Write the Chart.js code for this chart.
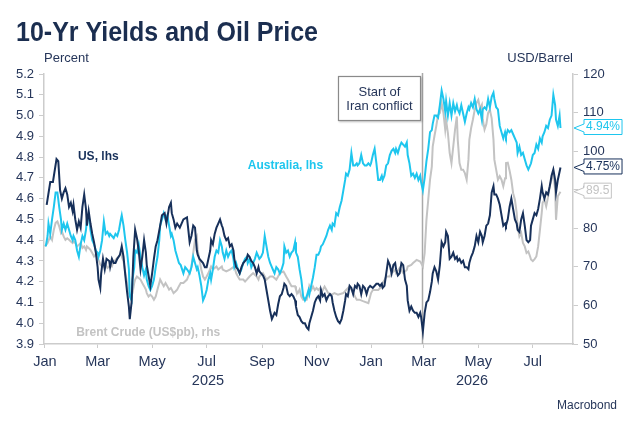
<!DOCTYPE html>
<html>
<head>
<meta charset="utf-8">
<title>10-Yr Yields and Oil Price</title>
<script src="https://cdn.jsdelivr.net/npm/chart.js@4.4.1/dist/chart.umd.min.js"></script>
<style>
  html, body { margin: 0; padding: 0; background: #ffffff; }
  #wrap { width: 638px; height: 432px; }
</style>
</head>
<body>
<div id="wrap"><canvas id="chart" width="638" height="432"></canvas></div>
<script>
// Colours and fonts
const FONT = '"Liberation Sans", Arial, sans-serif';
const NAVY = '#17305a';
const CYAN = '#1ec6ee';
const GREY = '#c3c3c3';
const TEXT = '#26365a';
const AXIS = '#cccccc';

// x values are days since 1 Jan 2025
const monthTickDays = [0, 59, 120, 181, 243, 304, 365, 424, 485, 546];
const monthTickLabels = ['Jan', 'Mar', 'May', 'Jul', 'Sep', 'Nov', 'Jan', 'Mar', 'May', 'Jul'];
const yearLabels = ['2025', '2026'];
const yearStartDays = [0, 365];
const leftTicks = [3.9, 4.0, 4.1, 4.2, 4.3, 4.4, 4.5, 4.6, 4.7, 4.8, 4.9, 5.0, 5.1, 5.2];
const rightTicks = [50, 60, 70, 80, 90, 100, 110, 120];
const conflictDay = 422; // 27 Feb 2026
const conflictLabel = ['Start of', 'Iran conflict'];

// US 10-yr yield, % (lhs)
const usYield = [
  [2,4.57],[6,4.68],[9,4.68],[13,4.79],[15,4.78],[17,4.64],[19,4.60],[21,4.63],[23,4.65],[25,4.62],
  [27,4.56],[29,4.58],[31,4.54],[32,4.57],[34,4.50],[36,4.45],[38,4.49],[40,4.46],[42,4.56],[44,4.62],
  [46,4.55],[47,4.47],[49,4.54],[51,4.48],[53,4.43],[55,4.39],[57,4.34],[59,4.27],[60,4.21],[62,4.17],
  [63,4.24],[65,4.31],[67,4.26],[69,4.31],[72,4.30],[73,4.27],[75,4.31],[77,4.29],[79,4.29],[81,4.31],
  [84,4.33],[86,4.37],[88,4.32],[90,4.23],[92,4.15],[94,4.08],[95,4.02],[97,4.10],[99,4.32],[101,4.45],
  [103,4.41],[105,4.35],[107,4.26],[109,4.32],[111,4.40],[113,4.34],[114,4.28],[116,4.23],[118,4.18],[120,4.24],
  [122,4.31],[124,4.37],[126,4.40],[129,4.47],[131,4.52],[134,4.53],[136,4.48],[139,4.56],[141,4.58],[142,4.53],
  [144,4.50],[146,4.46],[148,4.48],[151,4.46],[155,4.50],[159,4.51],[160,4.47],[162,4.39],[164,4.42],[166,4.47],
  [168,4.46],[170,4.35],[171,4.33],[173,4.31],[177,4.29],[179,4.27],[181,4.27],[185,4.35],[186,4.40],[188,4.38],
  [190,4.43],[192,4.46],[194,4.48],[196,4.50],[198,4.47],[199,4.46],[201,4.42],[203,4.40],[205,4.41],[207,4.37],
  [209,4.38],[211,4.35],[212,4.31],[214,4.27],[216,4.26],[218,4.24],[220,4.27],[222,4.29],[226,4.31],[227,4.33],
  [229,4.32],[231,4.30],[233,4.29],[235,4.27],[237,4.24],[239,4.27],[240,4.25],[242,4.24],[244,4.23],[246,4.21],
  [248,4.16],[250,4.11],[252,4.06],[254,4.02],[255,4.03],[257,4.05],[259,4.04],[261,4.09],[263,4.13],[265,4.14],
  [267,4.17],[268,4.19],[270,4.18],[272,4.14],[274,4.13],[276,4.14],[278,4.13],[280,4.11],[281,4.08],[283,4.04],
  [285,4.03],[287,4.01],[289,4.00],[291,4.00],[293,3.98],[295,3.97],[296,4.00],[298,4.03],[300,4.06],[302,4.10],
  [304,4.12],[306,4.13],[308,4.11],[309,4.16],[311,4.13],[313,4.14],[315,4.11],[317,4.13],[319,4.14],[321,4.13],
  [322,4.10],[324,4.06],[326,4.03],[328,4.01],[330,4.00],[332,4.02],[334,4.06],[336,4.11],[337,4.14],[339,4.13],
  [341,4.18],[343,4.17],[345,4.14],[347,4.18],[349,4.17],[350,4.19],[352,4.18],[354,4.14],[356,4.18],[358,4.17],
  [360,4.14],[362,4.17],[364,4.18],[367,4.17],[371,4.19],[373,4.19],[375,4.18],[377,4.19],[378,4.17],[380,4.18],
  [382,4.24],[384,4.30],[386,4.28],[388,4.24],[390,4.28],[392,4.29],[393,4.26],[395,4.23],[397,4.24],[399,4.29],
  [401,4.28],[403,4.21],[405,4.18],[406,4.11],[408,4.06],[410,4.08],[412,4.06],[414,4.05],[416,4.05],[418,4.03],
  [420,4.05],[421,4.03],[423,3.96],[425,4.05],[427,4.10],[429,4.11],[431,4.15],[433,4.20],[434,4.24],[436,4.27],
  [438,4.25],[440,4.21],[442,4.28],[444,4.39],[446,4.37],[448,4.39],[449,4.44],[451,4.42],[453,4.31],[455,4.32],
  [457,4.34],[459,4.31],[461,4.32],[462,4.30],[464,4.31],[466,4.29],[468,4.30],[470,4.27],[472,4.27],[474,4.26],
  [475,4.29],[477,4.32],[479,4.34],[481,4.37],[483,4.42],[485,4.39],[487,4.44],[489,4.42],[490,4.39],[492,4.42],
  [494,4.47],[496,4.48],[498,4.52],[500,4.63],[502,4.66],[503,4.62],[505,4.62],[507,4.60],[509,4.57],[511,4.52],
  [513,4.47],[515,4.48],[516,4.47],[518,4.50],[520,4.56],[522,4.60],[524,4.55],[526,4.50],[528,4.48],[529,4.45],
  [531,4.44],[533,4.50],[535,4.53],[537,4.47],[539,4.40],[541,4.39],[543,4.40],[544,4.47],[546,4.50],[548,4.53],
  [550,4.52],[552,4.55],[554,4.60],[556,4.66],[557,4.63],[559,4.60],[561,4.63],[563,4.62],[565,4.66],[567,4.71],
  [569,4.74],[571,4.69],[572,4.63],[574,4.69],[577,4.75]
];

// Australia 10-yr yield, % (lhs)
const ausYield = [
  [1,4.37],[3,4.42],[4,4.48],[6,4.43],[8,4.50],[10,4.56],[12,4.63],[14,4.63],[16,4.56],[18,4.50],
  [19,4.45],[21,4.48],[23,4.45],[25,4.48],[27,4.45],[29,4.42],[31,4.40],[32,4.42],[34,4.40],[36,4.35],
  [38,4.32],[40,4.38],[42,4.42],[44,4.40],[46,4.45],[47,4.50],[49,4.52],[51,4.45],[53,4.40],[55,4.38],
  [57,4.35],[59,4.34],[60,4.32],[62,4.35],[64,4.40],[66,4.49],[68,4.43],[70,4.44],[72,4.42],[73,4.43],
  [75,4.42],[77,4.41],[79,4.43],[81,4.42],[83,4.45],[85,4.50],[86,4.52],[88,4.47],[90,4.40],[92,4.34],
  [94,4.26],[95,4.13],[97,4.11],[98,4.21],[100,4.27],[101,4.35],[103,4.34],[105,4.38],[107,4.32],[109,4.27],
  [111,4.23],[113,4.26],[114,4.21],[116,4.18],[118,4.16],[120,4.18],[122,4.21],[124,4.27],[126,4.32],[128,4.40],
  [129,4.47],[131,4.50],[133,4.53],[135,4.50],[137,4.52],[139,4.47],[141,4.42],[142,4.43],[144,4.40],[146,4.35],
  [148,4.32],[150,4.29],[152,4.28],[155,4.24],[157,4.27],[159,4.26],[162,4.24],[164,4.27],[166,4.32],[168,4.29],
  [170,4.26],[171,4.27],[173,4.23],[175,4.18],[177,4.11],[179,4.13],[181,4.16],[183,4.21],[185,4.24],[186,4.21],
  [188,4.26],[190,4.32],[192,4.35],[194,4.34],[196,4.40],[198,4.37],[199,4.34],[201,4.31],[203,4.35],[205,4.32],
  [207,4.34],[209,4.35],[211,4.31],[212,4.27],[214,4.29],[216,4.26],[218,4.24],[220,4.26],[222,4.29],[224,4.31],
  [226,4.32],[227,4.29],[229,4.31],[231,4.27],[233,4.29],[235,4.31],[237,4.34],[239,4.32],[240,4.31],[242,4.32],
  [244,4.34],[246,4.42],[248,4.37],[250,4.32],[252,4.29],[254,4.27],[255,4.26],[257,4.24],[259,4.27],[261,4.26],
  [263,4.24],[265,4.26],[267,4.29],[268,4.37],[270,4.34],[272,4.35],[274,4.32],[276,4.34],[278,4.35],[280,4.39],
  [281,4.34],[283,4.32],[285,4.26],[287,4.21],[289,4.13],[291,4.11],[293,4.13],[295,4.16],[296,4.14],[298,4.18],
  [300,4.22],[302,4.27],[304,4.33],[306,4.33],[308,4.35],[309,4.37],[311,4.38],[313,4.40],[315,4.42],[317,4.45],
  [319,4.47],[321,4.45],[322,4.48],[324,4.47],[326,4.53],[328,4.52],[330,4.56],[332,4.59],[334,4.64],[336,4.69],
  [337,4.72],[339,4.71],[341,4.74],[343,4.82],[345,4.76],[347,4.76],[349,4.77],[350,4.76],[352,4.77],[354,4.81],
  [356,4.77],[358,4.76],[360,4.76],[362,4.77],[364,4.76],[365,4.77],[367,4.81],[369,4.84],[371,4.77],[373,4.69],
  [375,4.69],[377,4.71],[378,4.69],[380,4.71],[382,4.76],[384,4.77],[386,4.81],[388,4.83],[390,4.84],[392,4.82],
  [393,4.84],[395,4.82],[397,4.85],[399,4.87],[401,4.86],[403,4.85],[405,4.87],[406,4.81],[408,4.77],[410,4.71],
  [412,4.72],[414,4.70],[416,4.72],[418,4.69],[420,4.71],[421,4.68],[423,4.64],[425,4.70],[427,4.78],[429,4.84],
  [431,4.92],[433,4.93],[434,4.96],[436,5.00],[438,5.00],[440,4.99],[442,5.05],[444,5.12],[446,5.08],[448,5.02],
  [449,5.07],[451,5.00],[453,5.06],[455,5.00],[457,5.06],[459,5.02],[461,5.05],[462,5.03],[464,5.01],[466,5.05],
  [468,5.01],[470,4.97],[472,5.01],[474,5.04],[475,5.03],[477,5.06],[479,5.04],[481,5.08],[483,5.03],[485,5.01],
  [487,5.03],[489,4.98],[490,5.03],[492,5.04],[494,5.03],[496,5.08],[498,5.04],[500,5.09],[502,5.11],[503,5.08],
  [505,5.04],[507,5.03],[509,4.95],[511,4.92],[513,4.89],[515,4.92],[516,4.90],[518,4.93],[520,4.92],[522,4.93],
  [524,4.91],[526,4.89],[528,4.87],[529,4.82],[531,4.85],[533,4.81],[535,4.82],[537,4.79],[539,4.76],[541,4.74],
  [543,4.76],[544,4.77],[546,4.81],[548,4.82],[550,4.86],[552,4.84],[554,4.89],[556,4.87],[557,4.90],[559,4.92],
  [561,4.95],[563,4.94],[565,4.98],[567,5.00],[569,5.10],[571,5.05],[572,4.98],[574,4.95],[576,5.00],[577,4.94]
];

// Brent crude, US$ per barrel (rhs)
const brentPrice = [
  [0,75.3],[3,76.2],[6,77.9],[8,77.0],[10,79.6],[12,81.4],[14,81.8],[16,80.5],[18,78.8],[19,79.2],
  [21,77.9],[23,77.0],[25,77.4],[27,77.0],[29,76.6],[31,76.2],[32,76.6],[34,76.2],[36,75.3],[38,75.7],
  [40,76.2],[42,74.9],[44,75.3],[46,74.4],[47,75.3],[49,74.9],[51,74.4],[53,73.6],[55,72.7],[57,73.2],
  [59,72.3],[60,71.8],[62,70.6],[64,70.1],[66,70.1],[68,70.6],[70,69.7],[72,70.1],[73,70.6],[75,70.1],
  [77,71.4],[79,71.8],[81,72.3],[83,72.7],[85,73.6],[86,72.7],[88,71.4],[90,68.4],[92,65.8],[94,63.2],
  [96,62.3],[98,63.2],[100,65.8],[101,66.7],[103,67.5],[105,67.1],[107,66.7],[109,65.8],[111,65.0],[113,64.1],
  [114,63.2],[116,62.3],[118,62.8],[120,62.3],[122,61.5],[124,62.3],[126,64.1],[128,65.8],[129,66.7],[131,65.8],
  [133,65.0],[135,65.8],[137,65.0],[139,64.1],[141,64.5],[142,64.1],[144,63.2],[146,63.6],[148,64.1],[150,65.0],
  [152,65.8],[155,65.8],[159,66.7],[162,68.4],[164,70.1],[166,73.6],[168,77.0],[170,77.9],[171,74.4],[173,71.8],
  [175,69.3],[177,67.5],[179,66.7],[181,67.5],[183,68.4],[186,70.1],[188,69.3],[192,70.1],[194,69.3],[198,70.1],
  [199,69.3],[203,68.8],[207,69.3],[212,70.1],[214,68.4],[216,67.5],[218,66.7],[222,66.7],[224,66.2],[226,66.7],
  [229,67.5],[233,68.4],[237,67.5],[239,66.7],[240,67.5],[244,68.4],[248,66.7],[252,67.5],[255,67.5],[259,66.7],
  [261,67.5],[263,68.4],[267,68.8],[268,68.4],[270,67.5],[272,66.7],[274,65.8],[276,65.0],[280,65.0],[281,64.1],
  [283,63.2],[285,64.1],[287,62.3],[289,61.5],[293,61.5],[295,63.2],[296,65.0],[298,64.0],[300,64.9],[302,64.0],
  [304,64.5],[306,64.0],[308,64.5],[309,63.2],[311,64.0],[313,64.9],[317,63.2],[321,62.8],[324,63.2],[328,62.8],
  [334,63.2],[337,64.0],[341,64.9],[345,63.2],[347,62.3],[349,61.5],[352,61.5],[356,61.1],[362,60.6],[364,62.3],
  [365,63.2],[367,64.0],[373,64.0],[377,64.9],[378,65.8],[380,66.6],[382,67.5],[386,67.5],[388,68.4],[392,69.2],
  [393,68.4],[397,69.7],[401,68.4],[405,69.2],[406,70.1],[410,70.5],[412,71.0],[414,71.4],[416,71.8],[420,71.4],
  [421,71.0],[423,70.1],[425,73.6],[427,82.2],[429,87.4],[431,92.6],[433,96.0],[434,101.2],[436,104.0],[438,106.5],
  [440,109.4],[442,109.9],[444,112.5],[446,109.9],[448,105.6],[449,108.0],[451,104.7],[453,99.5],[455,96.9],[457,101.2],
  [459,105.6],[461,109.0],[462,103.0],[464,96.9],[466,95.2],[468,95.2],[470,94.3],[472,92.6],[474,97.8],[475,103.0],
  [477,106.0],[479,108.2],[481,110.7],[483,112.5],[485,113.3],[487,111.0],[489,112.0],[490,108.2],[492,105.6],[494,107.0],
  [496,109.9],[498,110.7],[500,108.5],[502,103.0],[503,97.8],[505,95.2],[507,92.6],[509,93.5],[511,92.6],[513,90.9],
  [515,93.0],[516,96.9],[518,97.0],[520,95.0],[522,92.6],[524,89.1],[526,87.4],[528,84.0],[529,80.5],[531,77.9],
  [533,78.8],[535,76.2],[537,75.3],[539,73.6],[541,74.0],[543,72.7],[544,71.9],[546,71.5],[548,72.0],[550,72.7],
  [552,75.3],[554,79.6],[556,84.0],[557,86.6],[559,87.4],[561,85.7],[563,88.0],[565,90.9],[567,92.6],[569,94.3],
  [571,90.0],[572,82.2],[574,88.3],[577,89.5]
];

const toXY = rows => rows.map(([x, y]) => ({ x, y }));
const last = rows => rows[rows.length - 1][1];

// small callout box pointing at the right axis
function callout(ctx, tipX, y, text, color, textColor) {
  ctx.font = '12px ' + FONT;
  const w = ctx.measureText(text).width + 4;
  const left = tipX + 10, top = y - 8.5, bottom = y + 6.5;
  ctx.beginPath();
  ctx.moveTo(left, y - 4);
  ctx.lineTo(tipX, y);
  ctx.lineTo(left, y + 4);
  ctx.lineTo(left, bottom);
  ctx.lineTo(left + w, bottom);
  ctx.lineTo(left + w, top);
  ctx.lineTo(left, top);
  ctx.closePath();
  ctx.fillStyle = '#ffffff';
  ctx.fill();
  ctx.strokeStyle = color;
  ctx.lineWidth = 1;
  ctx.stroke();
  ctx.fillStyle = textColor;
  ctx.textAlign = 'left';
  ctx.textBaseline = 'middle';
  ctx.fillText(text, left + 2, y - 1);
}

const overlay = {
  id: 'overlay',
  beforeDatasetsDraw(chart) {
    const { ctx, chartArea, scales } = chart;
    const x = Math.round(scales.x.getPixelForValue(conflictDay)) + 0.5;
    ctx.save();
    ctx.strokeStyle = '#a9a9a9';
    ctx.lineWidth = 1.5;
    ctx.beginPath();
    ctx.moveTo(x, chartArea.top - 1);
    ctx.lineTo(x, chartArea.bottom);
    ctx.stroke();
    ctx.restore();
  },
  afterDraw(chart) {
    const { ctx, chartArea, scales } = chart;
    const xs = scales.x, yl = scales.y, yr = scales.y1;
    ctx.save();

    // title
    ctx.fillStyle = '#1b2e50';
    ctx.font = 'bold 27px ' + FONT;
    ctx.textAlign = 'left';
    ctx.textBaseline = 'alphabetic';
    const title = '10-Yr Yields and Oil Price';
    const tw = ctx.measureText(title).width;
    ctx.save();
    ctx.translate(16, 40.5);
    ctx.scale(302 / tw, 1);
    ctx.fillText(title, 0, 0);
    ctx.restore();

    // axis captions
    ctx.fillStyle = TEXT;
    ctx.font = '13px ' + FONT;
    ctx.textBaseline = 'middle';
    ctx.textAlign = 'left';
    ctx.fillText('Percent', chartArea.left, 58);
    ctx.textAlign = 'right';
    ctx.fillText('USD/Barrel', chartArea.right, 58);

    // year labels, centred under each year span
    ctx.font = '14.5px ' + FONT;
    ctx.textAlign = 'center';
    yearLabels.forEach((label, i) => {
      const start = yearStartDays[i];
      const end = i + 1 < yearStartDays.length ? yearStartDays[i + 1] : xs.max;
      ctx.fillText(label, xs.getPixelForValue((start + end) / 2), 381);
    });

    // source
    ctx.font = '12px ' + FONT;
    ctx.textAlign = 'right';
    ctx.fillText('Macrobond', 617, 406);

    // series labels
    ctx.font = 'bold 12px ' + FONT;
    ctx.textAlign = 'left';
    ctx.fillStyle = NAVY;
    ctx.fillText('US, lhs', xs.getPixelForValue(37), yl.getPixelForValue(4.80));
    ctx.fillStyle = CYAN;
    ctx.fillText('Australia, lhs', xs.getPixelForValue(227), yl.getPixelForValue(4.76));
    ctx.fillStyle = GREY;
    ctx.fillText('Brent Crude (US$pb), rhs', xs.getPixelForValue(35), yr.getPixelForValue(53.0));

    // conflict annotation box
    const lineX = Math.round(xs.getPixelForValue(conflictDay));
    const bw = 83, bh = 45;
    const bx = lineX - 1 - bw, by = chartArea.top + 2;
    ctx.save();
    ctx.shadowColor = 'rgba(0,0,0,0.25)';
    ctx.shadowBlur = 2;
    ctx.shadowOffsetX = 1;
    ctx.shadowOffsetY = 1;
    ctx.fillStyle = '#ffffff';
    ctx.fillRect(bx, by, bw, bh);
    ctx.restore();
    ctx.strokeStyle = '#8a8a8a';
    ctx.lineWidth = 1.2;
    ctx.strokeRect(bx + 0.5, by + 0.5, bw - 1, bh - 1);
    ctx.fillStyle = TEXT;
    ctx.font = '13px ' + FONT;
    ctx.textAlign = 'center';
    ctx.textBaseline = 'middle';
    ctx.fillText(conflictLabel[0], bx + bw / 2, by + 16);
    ctx.fillText(conflictLabel[1], bx + bw / 2, by + 30);

    // last-value callouts at the right axis
    const tipX = chartArea.right + 1;
    callout(ctx, tipX, yl.getPixelForValue(last(ausYield)), last(ausYield).toFixed(2) + '%', CYAN, CYAN);
    callout(ctx, tipX, yl.getPixelForValue(last(usYield)), last(usYield).toFixed(2) + '%', NAVY, NAVY);
    callout(ctx, tipX, yr.getPixelForValue(last(brentPrice)), last(brentPrice).toFixed(1), GREY, GREY);

    ctx.restore();
  }
};

const tickFont = { family: FONT, size: 13 };
const borderOpts = { display: true, color: AXIS, width: 1.5 };

new Chart(document.getElementById('chart').getContext('2d'), {
  type: 'line',
  data: {
    datasets: [
      {
        label: 'US, lhs',
        data: toXY(usYield),
        yAxisID: 'y',
        borderColor: NAVY,
        borderWidth: 2,
        pointRadius: 0,
        tension: 0,
      },
      {
        label: 'Australia, lhs',
        data: toXY(ausYield),
        yAxisID: 'y',
        borderColor: CYAN,
        borderWidth: 2,
        pointRadius: 0,
        tension: 0,
      },
      {
        label: 'Brent Crude (US$pb), rhs',
        data: toXY(brentPrice),
        yAxisID: 'y1',
        borderColor: GREY,
        borderWidth: 2,
        pointRadius: 0,
        tension: 0,
      },
    ],
  },
  options: {
    responsive: false,
    animation: false,
    layout: { padding: { top: 74, left: 0, right: 0, bottom: 0 } },
    plugins: {
      legend: { display: false },
      title: { display: false },
      tooltip: { enabled: false },
    },
    scales: {
      x: {
        type: 'linear',
        min: -1,
        max: 591,
        afterBuildTicks: (s) => { s.ticks = monthTickDays.map(v => ({ value: v })); },
        afterFit: (s) => { s.height = 88; },
        ticks: {
          autoSkip: false,
          maxRotation: 0,
          padding: 5,
          color: TEXT,
          font: { family: FONT, size: 14.5 },
          callback: (v) => monthTickLabels[monthTickDays.indexOf(v)],
        },
        grid: { drawOnChartArea: false, drawTicks: true, tickLength: 4, color: AXIS, lineWidth: 1 },
        border: borderOpts,
      },
      y: {
        position: 'left',
        min: 3.9,
        max: 5.2,
        afterBuildTicks: (s) => { s.ticks = leftTicks.map(v => ({ value: v })); },
        afterFit: (s) => { s.width = 44; },
        ticks: {
          padding: 5,
          color: TEXT,
          font: tickFont,
          callback: (v) => Number(v).toFixed(1),
        },
        grid: { drawOnChartArea: false, drawTicks: true, tickLength: 5, color: AXIS, lineWidth: 1 },
        border: borderOpts,
      },
      y1: {
        position: 'right',
        min: 50,
        max: 120,
        afterBuildTicks: (s) => { s.ticks = rightTicks.map(v => ({ value: v })); },
        afterFit: (s) => { s.width = 65; },
        ticks: {
          padding: 5,
          color: TEXT,
          font: tickFont,
          callback: (v) => String(v),
        },
        grid: { drawOnChartArea: false, drawTicks: true, tickLength: 5, color: AXIS, lineWidth: 1 },
        border: borderOpts,
      },
    },
  },
  plugins: [overlay],
});
</script>
</body>
</html>
